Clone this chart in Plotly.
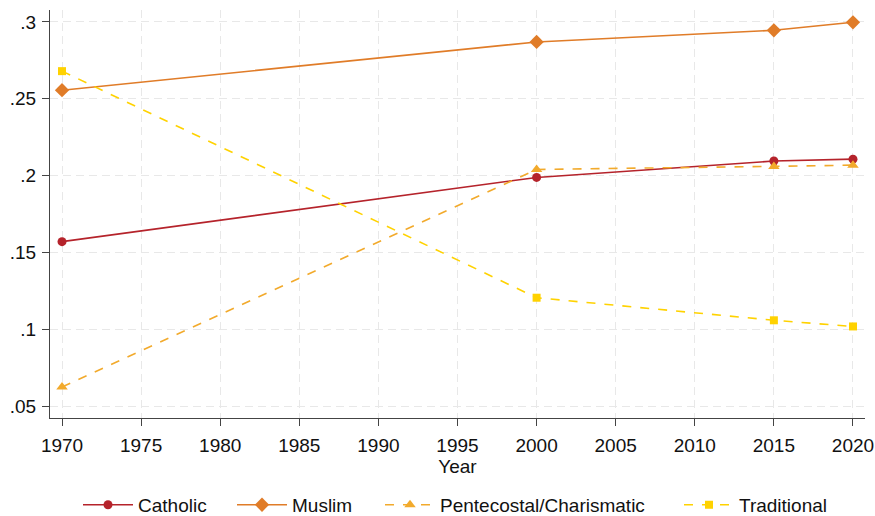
import plotly.graph_objects as go

years = [1970, 2000, 2015, 2020]
catholic = [0.157, 0.1988, 0.2095, 0.2107]
muslim = [0.2556, 0.287, 0.2946, 0.2998]
pentecostal = [0.0624, 0.2040, 0.2060, 0.2068]
traditional = [0.268, 0.1205, 0.1058, 0.1018]

series_names = ["Catholic", "Muslim", "Pentecostal/Charismatic", "Traditional"]

x_ticks = list(range(1970, 2021, 5))
y_ticks = [0.05, 0.1, 0.15, 0.2, 0.25, 0.3]
y_labels = [".05", ".1", ".15", ".2", ".25", ".3"]

# plot area spans pixels 50..865 horizontally
legend_px = [78, 232, 380, 679]
legend_x = [(p - 50) / 815 for p in legend_px]

fig = go.Figure()
fig.add_trace(go.Scatter(x=years, y=catholic, name=series_names[0], mode="lines+markers",
                         line=dict(color="#B5232B", width=1.6), legend="legend", showlegend=True,
                         marker=dict(symbol="circle", size=9, color="#B5232B")))
fig.add_trace(go.Scatter(x=years, y=muslim, name=series_names[1], mode="lines+markers",
                         line=dict(color="#E07C28", width=1.6), legend="legend2", showlegend=True,
                         marker=dict(symbol="diamond", size=11, color="#E07C28")))
fig.add_trace(go.Scatter(x=years, y=pentecostal, name=series_names[2], mode="lines+markers",
                         line=dict(color="#F2AA2C", width=1.6, dash="dash"), legend="legend3",
                         showlegend=True,
                         marker=dict(symbol="triangle-up", size=10, color="#F2AA2C")))
fig.add_trace(go.Scatter(x=years, y=traditional, name=series_names[3], mode="lines+markers",
                         line=dict(color="#FFD200", width=1.6, dash="dash"), legend="legend4",
                         showlegend=True,
                         marker=dict(symbol="square", size=8, color="#FFD200")))

def leg(xv):
    return dict(orientation="h", x=xv, xanchor="left", y=-0.213, yanchor="middle",
                font=dict(size=19), itemwidth=50, bgcolor="rgba(0,0,0,0)")

fig.update_layout(
    width=875, height=516, showlegend=True,
    margin=dict(l=50, r=10, t=10, b=98, autoexpand=False),
    paper_bgcolor="white", plot_bgcolor="white",
    font=dict(family="Liberation Sans, Arial, sans-serif", size=19, color="#111111"),
    legend=leg(legend_x[0]), legend2=leg(legend_x[1]),
    legend3=leg(legend_x[2]), legend4=leg(legend_x[3]),
    xaxis=dict(range=[1969.24, 2020.76], tickvals=x_ticks, ticks="outside", ticklen=7,
               tickcolor="#444", showline=True, linecolor="#444", linewidth=1.3,
               showgrid=True, gridcolor="#e8e8e8", griddash="8px,5px", gridwidth=1.4,
               zeroline=False, automargin=False, ticklabelstandoff=3,
               title=dict(text="Year", standoff=4, font=dict(size=19))),
    yaxis=dict(range=[0.0422, 0.3078], tickvals=y_ticks, ticktext=y_labels, ticks="outside",
               ticklen=7, tickcolor="#444", showline=True, linecolor="#444", linewidth=1.3,
               showgrid=True, gridcolor="#e8e8e8", griddash="8px,5px", gridwidth=1.4,
               zeroline=False, automargin=False, ticklabelstandoff=2),
)

fig.write_html("out.html", config={"displayModeBar": False},
               post_script="document.body.style.margin='0';document.body.style.overflow='hidden';")
